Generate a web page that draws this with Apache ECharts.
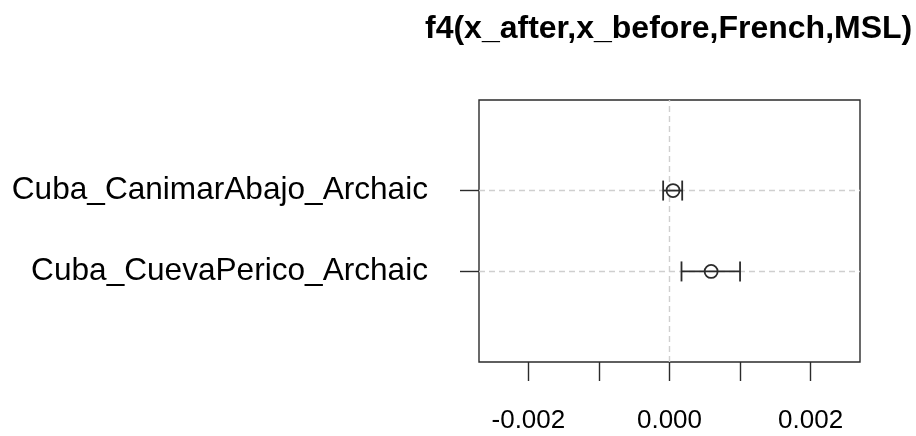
<!DOCTYPE html>
<html>
<head>
<meta charset="utf-8">
<script src="https://cdn.jsdelivr.net/npm/echarts@6/dist/echarts.min.js"></script>
<style>
  html, body { margin: 0; padding: 0; background: #fff; }
  #chart { width: 916px; height: 436px; }
</style>
</head>
<body>
<div id="chart"></div>
<script>
// f4 estimates with error bars
const groups = ['Cuba_CanimarAbajo_Archaic', 'Cuba_CuevaPerico_Archaic'];
const estimates = [0.00005, 0.00059];
const lower = [-0.00009, 0.00017];
const upper = [0.00018, 0.001];
const rows = [2, 1];
const xTicks = [-0.002, -0.001, 0, 0.001, 0.002];
const xTickLabels = [-0.002, 0, 0.002];

const ink = '#2b2b2b';
const dashCol = '#cfcfcf';
const font = 'Liberation Sans, Arial, sans-serif';

const chart = echarts.init(document.getElementById('chart'));

const barData = groups.map(function (g, i) {
  return [lower[i], upper[i], estimates[i], rows[i]];
});

const option = {
  backgroundColor: '#fff',
  animation: false,
  title: {
    text: 'f4(x_after,x_before,French,MSL)',
    left: 420,
    top: 8,
    textStyle: { fontFamily: font, fontWeight: 'bold', fontSize: 32, color: '#000' }
  },
  grid: {
    left: 479,
    top: 100,
    width: 381,
    height: 262,
    show: true,
    borderColor: ink,
    borderWidth: 1.4,
    backgroundColor: 'transparent'
  },
  xAxis: {
    type: 'value',
    min: -0.0027,
    max: 0.0027,
    axisLine: { show: false, onZero: false },
    splitLine: { show: false },
    axisTick: {
      show: true,
      length: 19,
      customValues: xTicks,
      lineStyle: { color: ink, width: 1.4 }
    },
    axisLabel: {
      customValues: xTickLabels,
      margin: 46,
      fontFamily: font,
      fontSize: 26,
      color: '#000',
      formatter: function (v) { return v.toFixed(3); }
    }
  },
  yAxis: {
    type: 'value',
    min: -0.12,
    max: 3.12,
    axisLine: { show: false, onZero: false },
    splitLine: { show: false },
    axisTick: {
      show: true,
      length: 19,
      customValues: rows,
      lineStyle: { color: ink, width: 1.4 }
    },
    axisLabel: {
      customValues: rows,
      margin: 51,
      fontFamily: font,
      fontSize: 31.6,
      color: '#000',
      formatter: function (v) {
        const i = rows.indexOf(Math.round(v));
        return i >= 0 ? groups[i] : '';
      }
    }
  },
  series: [
    {
      // reference lines (abline) under the bars
      type: 'line',
      data: [],
      z: 1,
      markLine: {
        silent: true,
        symbol: 'none',
        label: { show: false },
        lineStyle: { color: dashCol, type: [6, 4], width: 1.4 },
        data: [{ xAxis: 0 }].concat(rows.map(function (r) { return { yAxis: r }; }))
      }
    },
    {
      type: 'custom',
      z: 5,
      data: barData,
      encode: { x: [0, 1, 2], y: 3 },
      renderItem: function (params, api) {
        const lo = api.coord([api.value(0), api.value(3)]);
        const hi = api.coord([api.value(1), api.value(3)]);
        const mid = api.coord([api.value(2), api.value(3)]);
        const cap = 10;
        const style = { stroke: ink, lineWidth: 1.8, fill: null };
        return {
          type: 'group',
          children: [
            { type: 'line', shape: { x1: lo[0], y1: lo[1], x2: hi[0], y2: hi[1] }, style: style },
            { type: 'line', shape: { x1: lo[0], y1: lo[1] - cap, x2: lo[0], y2: lo[1] + cap }, style: style },
            { type: 'line', shape: { x1: hi[0], y1: hi[1] - cap, x2: hi[0], y2: hi[1] + cap }, style: style },
            { type: 'circle', shape: { cx: mid[0], cy: mid[1], r: 6.5 }, style: { stroke: ink, lineWidth: 1.8, fill: 'none' } }
          ]
        };
      }
    }
  ]
};

chart.setOption(option);
</script>
</body>
</html>
